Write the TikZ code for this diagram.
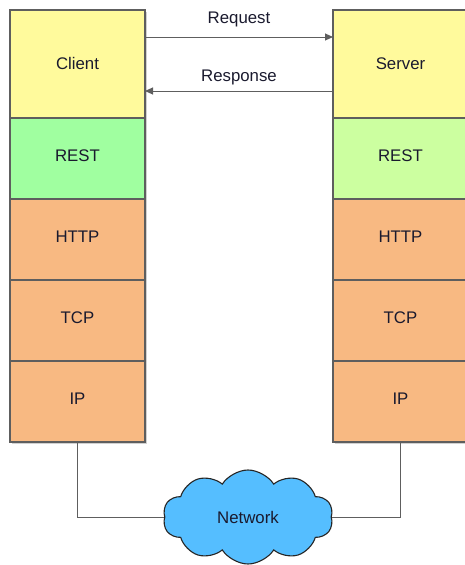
\documentclass[tikz,border=0pt]{standalone}
\usepackage{fontspec}
\setmainfont{Liberation Sans}
\usetikzlibrary{arrows.meta,shapes.symbols,shadows,calc}
\definecolor{appyellow}{HTML}{FFFA9C}
\definecolor{restgreen}{HTML}{A0FFA0}
\definecolor{restlime}{HTML}{CCFFA0}
\definecolor{netorange}{HTML}{F8B982}
\definecolor{cloudblue}{HTML}{55BEFF}
\definecolor{edgegray}{HTML}{5E5E5E}
\definecolor{inkblue}{HTML}{1A1A2E}
\tikzset{
  layer/.style={draw=edgegray, line width=1.1pt, minimum width=135pt,
    inner sep=0pt, outer sep=0pt, text=inkblue, font=\fontsize{16.8}{19}\selectfont,
    drop shadow={shadow xshift=1.5pt, shadow yshift=-1.5pt, fill=black!18, opacity=1}},
  tall/.style={layer, minimum height=108pt, text height=12pt, text depth=2pt},
  short/.style={layer, minimum height=81pt, text height=12pt, text depth=6pt},
  wire/.style={draw=edgegray, line width=1pt},
  msg/.style={wire, -{Triangle[length=8pt, width=7pt]}},
  caption/.style={font=\fontsize{16.8}{19}\selectfont, text=inkblue, inner sep=0pt}
}
\begin{document}
\begin{tikzpicture}[x=1pt, y=-1pt]
  \useasboundingbox (0,0) rectangle (465,565);
  \clip (0,0) rectangle (465,565);

  % client stack
  \node[tall, fill=appyellow, anchor=north west] (client) at (10,10) {Client};
  \node[short, fill=restgreen, anchor=north] (lrest) at (client.south) {REST};
  \node[short, fill=netorange, anchor=north] (lhttp) at (lrest.south) {HTTP};
  \node[short, fill=netorange, anchor=north] (ltcp) at (lhttp.south) {TCP};
  \node[short, fill=netorange, anchor=north] (lip) at (ltcp.south) {IP};

  % server stack
  \node[tall, fill=appyellow, anchor=north west] (server) at (333,10) {Server};
  \node[short, fill=restlime, anchor=north] (rrest) at (server.south) {REST};
  \node[short, fill=netorange, anchor=north] (rhttp) at (rrest.south) {HTTP};
  \node[short, fill=netorange, anchor=north] (rtcp) at (rhttp.south) {TCP};
  \node[short, fill=netorange, anchor=north] (rip) at (rtcp.south) {IP};

  % messages
  \coordinate (reqA) at ($(client.north east)!0.25!(client.south east)$);
  \coordinate (reqB) at ($(server.north west)!0.25!(server.south west)$);
  \coordinate (resA) at ($(server.north west)!0.75!(server.south west)$);
  \coordinate (resB) at ($(client.north east)!0.75!(client.south east)$);
  \draw[msg] (reqA) -- (reqB) node[caption, midway, above=10pt] (reqlbl) {Request};
  \draw[msg] (resA) -- (resB) node[caption, midway, above=6pt] (reslbl) {Response};

  % network
  \node[cloud, cloud puffs=10, cloud puff arc=115, aspect=1.9,
        draw=black!85, line width=1.1pt, fill=cloudblue, text=inkblue,
        minimum width=170pt, minimum height=94pt, inner sep=0pt,
        font=\fontsize{16.8}{19}\selectfont] (net) at (248,517) {Network};

  \draw[wire] (lip.south) |- (net.west);
  \draw[wire] (rip.south) |- (net.east);
\end{tikzpicture}
\end{document}
